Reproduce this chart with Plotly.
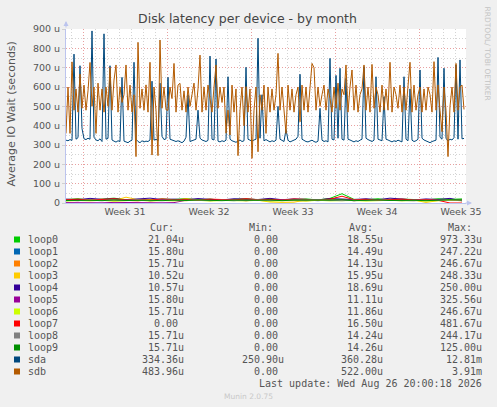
import numpy as np
import plotly.graph_objects as go

# munin diskstats latency, month view (values in microseconds)
# sda / sdb: one sample every 4 hours, loop devices: one sample per day
STEP_FINE_H = 4
STEP_DAY_H = 24

sda_us = [
    325, 322, 328, 324, 770, 330, 338, 710, 385, 332,
    328, 335, 330, 890, 340, 326, 322, 332, 318, 875,
    330, 334, 710, 326, 320, 315, 322, 318, 650, 320,
    316, 312, 320, 325, 728, 330, 318, 312, 322, 316,
    320, 318, 326, 630, 325, 330, 322, 620, 345, 328,
    332, 650, 330, 325, 320, 318, 322, 316, 312, 320,
    340, 560, 318, 322, 325, 330, 480, 335, 326, 322,
    318, 324, 760, 330, 326, 745, 320, 316, 322, 318,
    325, 653, 330, 322, 318, 314, 320, 326, 318, 322,
    702, 330, 325, 320, 326, 330, 852, 335, 560, 322,
    328, 320, 316, 322, 318, 325, 500, 330, 322, 318,
    380, 325, 316, 320, 322, 330, 345, 666, 330, 322,
    318, 316, 322, 325, 318, 314, 320, 490, 325, 318,
    322, 316, 748, 330, 326, 660, 335, 697, 330, 325,
    645, 330, 326, 320, 316, 322, 318, 325, 330, 705,
    335, 328, 322, 318, 325, 653, 330, 326, 322, 550,
    330, 326, 320, 316, 322, 318, 325, 320, 316, 653,
    330, 322, 590, 325, 318, 322, 330, 688, 335, 326,
    320, 316, 312, 318, 322, 325, 753, 340, 330, 697,
    335, 320, 330, 326, 338, 714, 330, 740, 332, 334,
]

sdb_us = [
    360, 600, 360, 730, 480, 590, 470, 667, 490, 610,
    480, 580, 727, 500, 600, 360, 620, 480, 590, 470,
    600, 500, 700, 480, 636, 714, 470, 600, 520, 560,
    714, 480, 610, 470, 560, 240, 831, 490, 590, 480,
    611, 470, 728, 248, 600, 480, 245, 843, 490, 600,
    482, 480, 600, 540, 722, 470, 610, 619, 480, 580,
    470, 600, 500, 560, 620, 480, 590, 765, 470, 600,
    480, 610, 540, 470, 600, 714, 490, 600, 520, 600,
    361, 480, 352, 610, 470, 590, 245, 480, 600, 400,
    602, 470, 590, 231, 480, 600, 265, 560, 480, 610,
    360, 600, 470, 590, 480, 560, 774, 480, 600, 470,
    360, 610, 480, 590, 470, 560, 600, 420, 610, 480,
    600, 470, 590, 722, 700, 480, 600, 500, 560, 610,
    480, 590, 540, 470, 600, 490, 620, 480, 590, 560,
    714, 470, 600, 688, 480, 610, 470, 560, 590, 714,
    480, 600, 470, 717, 490, 600, 560, 470, 610, 480,
    590, 480, 728, 470, 600, 560, 490, 610, 470, 600,
    480, 590, 728, 470, 610, 480, 560, 600, 470, 590,
    480, 600, 560, 470, 731, 480, 610, 480, 369, 600,
    480, 240, 500, 600, 470, 722, 480, 600, 610, 484,
]

loop0_us = [18, 22, 15, 20, 25, 17, 19, 14, 21, 18, 23, 16, 20, 15, 19, 22, 17,
            20, 14, 18, 21, 16, 24, 48, 19, 17, 22, 15, 20, 18, 16, 22, 19, 21]
loop1_us = [12, 16, 14, 18, 13, 15, 17, 12, 14, 16, 13, 15, 18, 14, 12, 16, 15,
            13, 17, 14, 15, 12, 16, 14, 18, 13, 15, 14, 16, 12, 15, 17, 14, 16]
loop2_us = [15, 12, 17, 13, 16, 14, 11, 18, 13, 15, 12, 16, 14, 13, 17, 12, 15,
            14, 16, 13, 11, 15, 14, 17, 12, 16, 13, 15, 14, 12, 16, 13, 15, 16]
loop3_us = [14, 18, 16, 20, 13, 30, 17, 15, 19, 14, 22, 16, 18, 15, 17, 20, 14,
            5, 3, 4, 16, 18, 15, 19, 17, 14, 16, 20, 18, 15, 3, 12, 16, 11]
loop4_us = [20, 17, 24, 19, 22, 16, 21, 25, 18, 20, 17, 23, 19, 16, 22, 20, 18,
            24, 17, 21, 19, 16, 23, 20, 18, 22, 17, 25, 19, 16, 21, 18, 24, 11]
loop5_us = [2, 1, 2, 1, 3, 2, 1, 2, 1, 2, 14, 16, 13, 18, 15, 12, 17,
            14, 16, 13, 15, 18, 14, 16, 12, 17, 15, 13, 16, 14, 18, 15, 13, 16]
loop6_us = [10, 13, 11, 14, 9, 12, 15, 10, 13, 11, 12, 14, 10, 13, 12, 11, 14,
            9, 12, 13, 10, 14, 11, 12, 13, 10, 12, 14, 11, 13, 10, 12, 14, 16]
loop7_us = [17, 20, 15, 19, 22, 16, 18, 14, 21, 17, 19, 15, 20, 18, 16, 22, 17,
            19, 15, 21, 18, 16, 20, 35, 17, 19, 15, 18, 20, 16, 18, 14, 0, 0]
loop8_us = [14, 12, 16, 13, 15, 14, 17, 12, 15, 13, 14, 16, 12, 15, 14, 13, 16,
            12, 14, 15, 13, 17, 14, 12, 15, 13, 16, 14, 12, 15, 13, 14, 16, 16]
loop9_us = [13, 15, 14, 12, 16, 13, 15, 14, 12, 15, 13, 16, 14, 12, 15, 13, 14,
            16, 12, 15, 14, 13, 15, 17, 12, 14, 16, 13, 15, 14, 12, 16, 17, 16]

# legend table (as printed by munin)
series_names = ['loop0', 'loop1', 'loop2', 'loop3', 'loop4', 'loop5',
                'loop6', 'loop7', 'loop8', 'loop9', 'sda', 'sdb']
series_colors = ['#00CC00', '#0066B3', '#FF8000', '#FFCC00', '#330099', '#990099',
                 '#CCFF00', '#FF0000', '#808080', '#008F00', '#00487D', '#B35A00']
cur_txt = ['21.04u', '15.80u', '15.71u', '10.52u', '10.57u', '15.80u',
           '15.71u', '0.00', '15.71u', '15.71u', '334.36u', '483.96u']
min_txt = ['0.00'] * 10 + ['250.90u', '0.00']
avg_txt = ['18.55u', '14.49u', '14.13u', '15.95u', '18.69u', '11.11u',
           '11.86u', '16.50u', '14.24u', '14.26u', '360.28u', '522.00u']
max_txt = ['973.33u', '247.22u', '246.67u', '248.33u', '250.00u', '325.56u',
           '246.67u', '481.67u', '244.17u', '125.00u', '12.81m', '3.91m']

# axes
y_ticks = [0, 100, 200, 300, 400, 500, 600, 700, 800, 900]
y_ticktext = ['0', '100 u', '200 u', '300 u', '400 u', '500 u', '600 u',
              '700 u', '800 u', '900 u']
week_start_h = [34, 202, 370, 538, 706]
week_labels = ['Week 31', 'Week 32', 'Week 33', 'Week 34', 'Week 35']
RANGE_H = 800

# pixel layout of the rrdtool canvas
W, H = 497, 407
L, R, T, B = 66, 466, 29, 203

TXT = '#555555'
MONO = 'DejaVu Sans Mono'
SANS = 'DejaVu Sans'


def px(x):
    return (x - L) / (R - L)


def py(y):
    return (B - y) / (B - T)


loops = [loop0_us, loop1_us, loop2_us, loop3_us, loop4_us,
         loop5_us, loop6_us, loop7_us, loop8_us, loop9_us]

fig = go.Figure()
for name, color, vals in zip(series_names[:10], series_colors[:10], loops):
    fig.add_trace(go.Scatter(
        x=np.arange(len(vals)) * STEP_DAY_H, y=vals, mode='lines', name=name,
        line=dict(color=color, width=1)))
for name, color, vals in zip(series_names[10:], series_colors[10:], [sda_us, sdb_us]):
    fig.add_trace(go.Scatter(
        x=np.arange(len(vals)) * STEP_FINE_H, y=vals, mode='lines', name=name,
        line=dict(color=color, width=1)))

ann = []
# legend header
for lbl, x0 in zip(['Cur:', 'Min:', 'Avg:', 'Max:'], [149.3, 248.3, 347.7, 446.7]):
    ann.append(dict(x=px(x0), y=py(227.5), text=lbl, xanchor='left'))
shapes = []
for k, name in enumerate(series_names):
    yy = 239.5 + 12 * k
    shapes.append(dict(type='rect', xref='paper', yref='paper',
                       x0=px(14), x1=px(20), y0=py(yy - 3), y1=py(yy + 3),
                       fillcolor=series_colors[k], line=dict(width=0)))
    ann.append(dict(x=px(26.7), y=py(yy), text=name, xanchor='left'))
    for col, x1 in zip([cur_txt, min_txt, avg_txt, max_txt], [185, 285, 383.5, 483]):
        t = col[k]
        if t[-1].isdigit():
            t = t + '\u00a0'
        ann.append(dict(x=px(x1), y=py(yy), text=t, xanchor='right'))
ann.append(dict(x=px(483), y=py(383.5), text='Last update: Wed Aug 26 20:00:18 2026',
                xanchor='right'))
for a in ann:
    a.update(xref='paper', yref='paper', showarrow=False, yanchor='middle', borderpad=0,
             font=dict(family=MONO, size=10, color=TXT))

extra = [
    dict(x=px(10.5), y=py(114), text='Average IO Wait (seconds)', textangle=-90,
         font=dict(family=SANS, size=11, color=TXT)),
    dict(x=px(487.5), y=py(53), text='RRDTOOL/ TOBI OETIKER', textangle=90,
         font=dict(family=SANS, size=7.5, color='#C4C4C4')),
    dict(x=px(248), y=py(396), text='Munin 2.0.75',
         font=dict(family=SANS, size=7.5, color='#C8C8C8')),
]
for a in extra:
    a.update(xref='paper', yref='paper', showarrow=False, xanchor='center',
             yanchor='middle')
ann += extra

# axis arrows
AXC = '#BCC4EE'
ann.append(dict(xref='paper', yref='paper', x=px(L), y=py(21), ax=0, ay=8,
                text='', showarrow=True, arrowhead=2, arrowsize=1, arrowwidth=1,
                arrowcolor=AXC))
ann.append(dict(xref='paper', yref='paper', x=px(472), y=py(B), ax=-8, ay=0,
                text='', showarrow=True, arrowhead=2, arrowsize=1, arrowwidth=1,
                arrowcolor=AXC))

fig.update_layout(
    width=W, height=H,
    margin=dict(l=L, r=W - R, t=T, b=H - B, pad=0),
    paper_bgcolor='#F0F0F0',
    plot_bgcolor='#FFFFFF',
    showlegend=False,
    hovermode=False,
    title=dict(text='Disk latency per device - by month', x=247.5 / W, y=1 - 19 / H,
               xanchor='center', yanchor='middle',
               font=dict(family=SANS, size=12.5, color='#444444')),
    annotations=ann,
    shapes=shapes,
    xaxis=dict(
        range=[0, RANGE_H], tickmode='array', tickvals=week_start_h, ticktext=week_labels,
        ticklabelshift=42, ticks='', showgrid=True, gridcolor='#E8A0A0', griddash='1px,2px',
        gridwidth=1, zeroline=False, showline=True, linecolor=AXC, linewidth=1,
        tickfont=dict(family=SANS, size=9.5, color=TXT),
        minor=dict(tick0=10, dtick=24, showgrid=True, gridcolor='#D4D4D4',
                   griddash='1px,2px', gridwidth=1),
    ),
    yaxis=dict(
        range=[0, 900], tickmode='array', tickvals=y_ticks, ticktext=y_ticktext,
        ticks='outside', ticklen=3, tickcolor='#D0D0D0',
        showgrid=True, gridcolor='#E8A0A0', griddash='1px,2px', gridwidth=1,
        zeroline=False, showline=True, linecolor=AXC, linewidth=1,
        tickfont=dict(family=SANS, size=9.5, color=TXT),
        minor=dict(tick0=0, dtick=50, showgrid=True, gridcolor='#D4D4D4',
                   griddash='1px,2px', gridwidth=1),
    ),
)

# the page body has a default 8px margin; drop it so the canvas fills the window
fig.write_html("out.html", config={'displayModeBar': False},
               post_script="document.body.style.margin = '0';")
